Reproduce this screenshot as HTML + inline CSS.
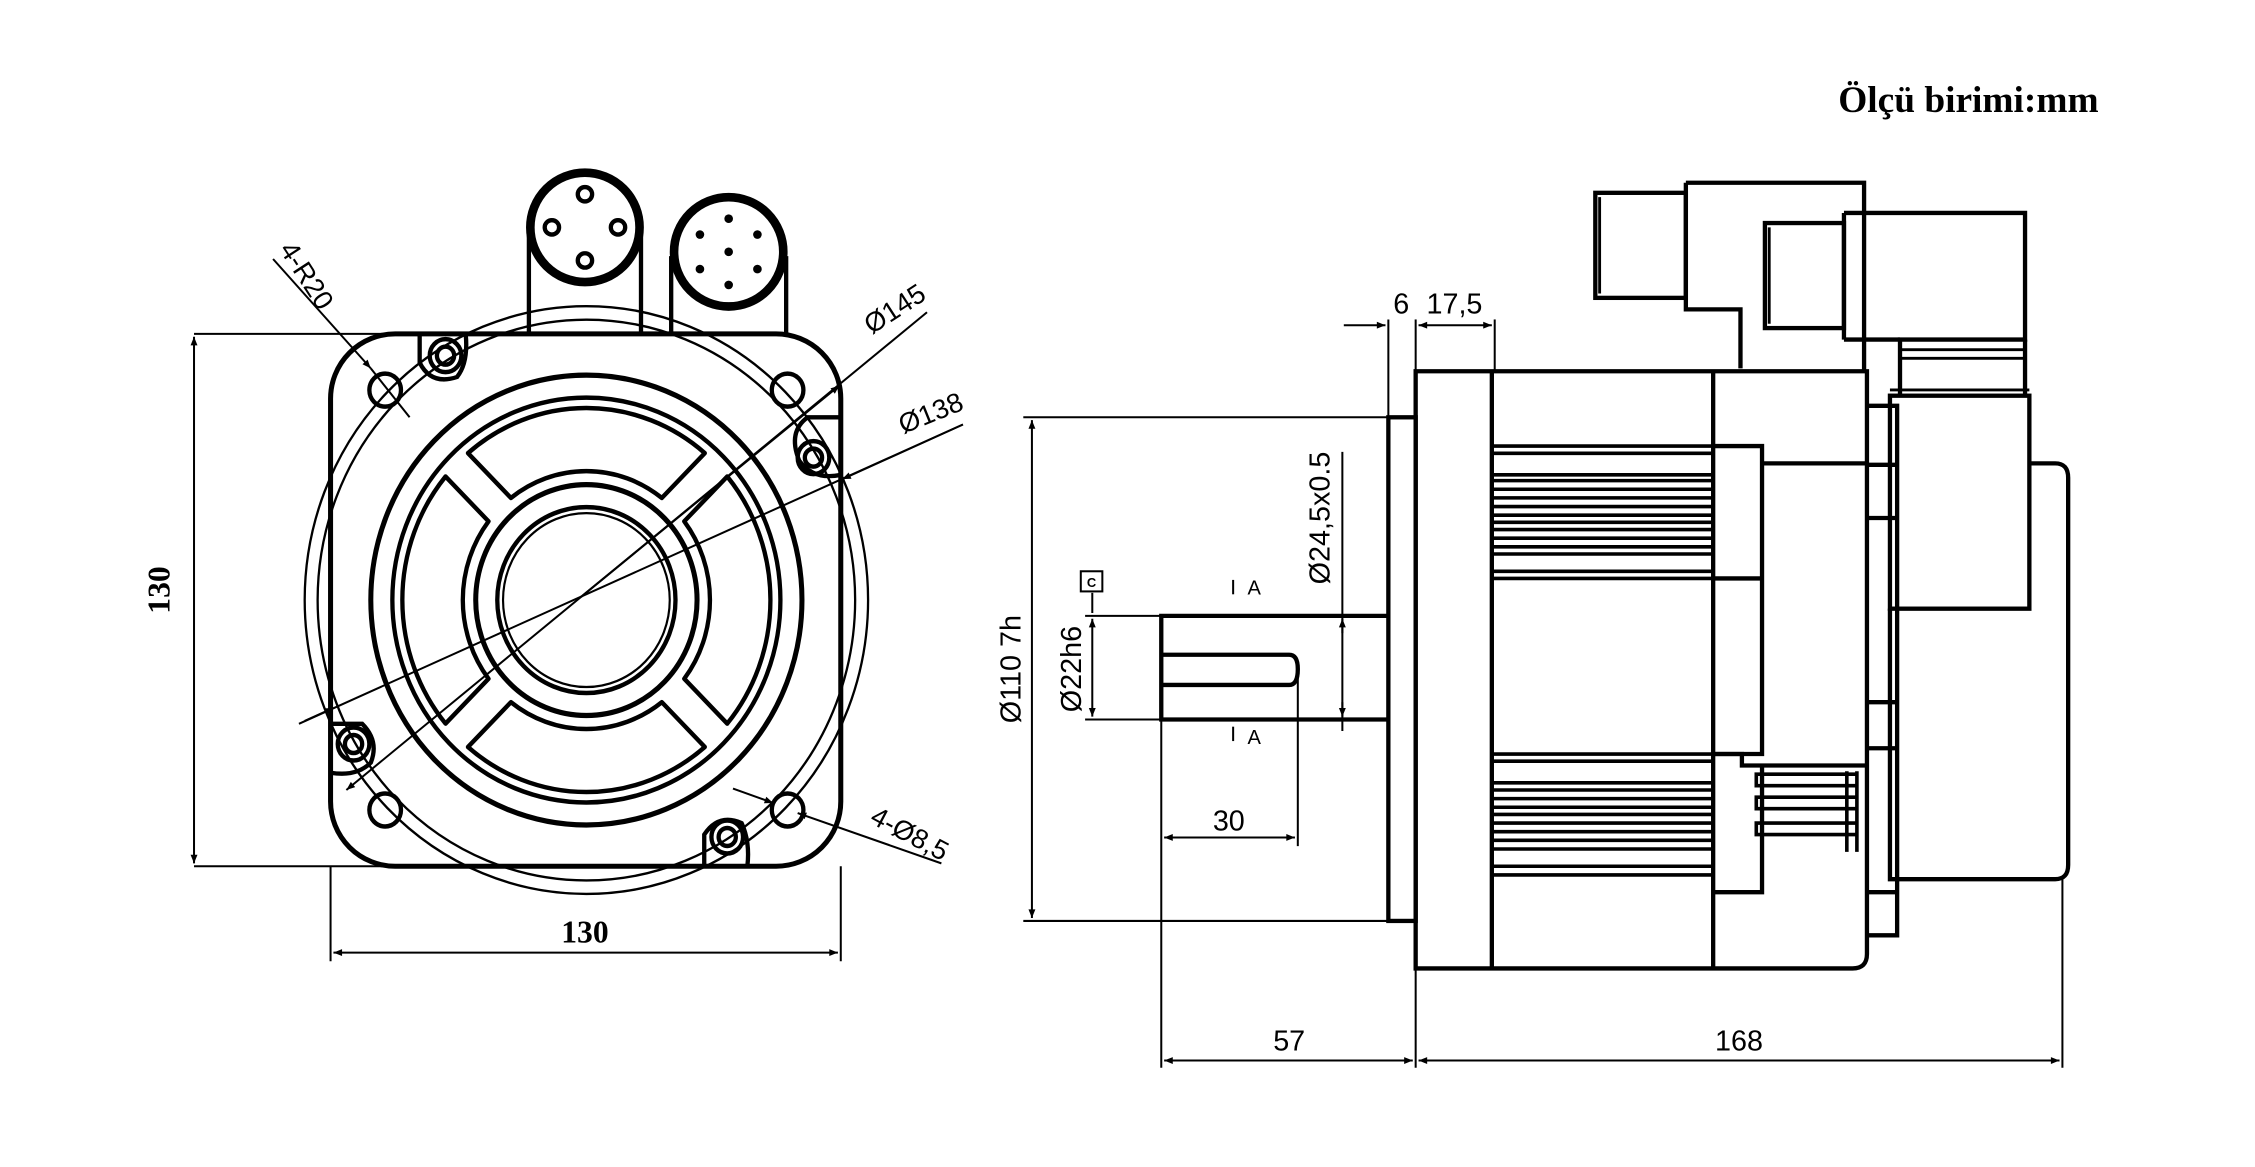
<!DOCTYPE html>
<html><head><meta charset="utf-8"><style>
html,body{margin:0;padding:0;background:#fff;}
svg{display:block;}
text{font-family:"Liberation Sans",sans-serif;fill:#000;}
</style></head><body>
<svg width="2255" height="1167" viewBox="0 0 1569 811" preserveAspectRatio="none" xmlns="http://www.w3.org/2000/svg">
<defs>
<marker id="ar" viewBox="0 0 10 10" refX="10" refY="5" markerWidth="12" markerHeight="6" orient="auto-start-reverse" markerUnits="userSpaceOnUse"><path d="M0,1 L10,5 L0,9 Z" fill="#000"/></marker>
</defs>
<rect width="1580" height="820" fill="#fff"/>
<text x="1279" y="78" font-weight="bold" font-size="26" style="font-family:'Liberation Serif',serif">Ölçü birimi:mm</text>

<!-- FRONT VIEW -->
<g fill="none" stroke="#000">
 <g stroke-width="3">
  <line x1="368" y1="160" x2="368" y2="232"/><line x1="446" y1="160" x2="446" y2="232"/>
  <line x1="467" y1="178" x2="467" y2="232"/><line x1="547" y1="178" x2="547" y2="232"/>
 </g>
 <ellipse cx="407" cy="158" rx="38" ry="38" stroke-width="6"/>
 <ellipse cx="507" cy="175" rx="38" ry="38" stroke-width="6"/>
 <g stroke-width="3">
  <circle cx="407" cy="135" r="5"/><circle cx="384" cy="158" r="5"/><circle cx="430" cy="158" r="5"/><circle cx="407" cy="181" r="5"/>
 </g>
 <g fill="#000" stroke="none">
  <circle cx="507" cy="152" r="3"/><circle cx="487" cy="163" r="3"/><circle cx="527" cy="163" r="3"/><circle cx="507" cy="175" r="3"/><circle cx="487" cy="187" r="3"/><circle cx="527" cy="187" r="3"/><circle cx="507" cy="198" r="3"/>
 </g>
 <rect x="230" y="232" width="355" height="370" rx="45" ry="45" stroke-width="3.5"/>
 <g transform="translate(408,417) scale(1,1.042)">
  <circle r="196" stroke-width="1.6"/>
  <circle r="187" stroke-width="1.6"/>
  <circle r="150" stroke-width="3.5"/>
  <circle r="135" stroke-width="3"/>
  <circle r="77" stroke-width="3.5"/>
  <circle r="62" stroke-width="3"/>
  <circle r="58" stroke-width="1.5"/>
  <g stroke-width="3" stroke-linejoin="round">
   <path id="w" d="M52.5,-68.1 L82.4,-98 A128 128 0 0 0 -82.4,-98 L-52.5,-68.1 A86 86 0 0 1 52.5,-68.1 Z"/>
   <use href="#w" transform="rotate(90)"/><use href="#w" transform="rotate(180)"/><use href="#w" transform="rotate(270)"/>
  </g>
  <g stroke-width="3">
   <circle cx="-98" cy="-163" r="11"/><circle cx="-98" cy="-163" r="6"/>
   <circle cx="158" cy="-95" r="11"/><circle cx="158" cy="-95" r="6"/>
   <circle cx="-162" cy="96" r="11"/><circle cx="-162" cy="96" r="6"/>
   <circle cx="98" cy="158" r="11"/><circle cx="98" cy="158" r="6"/>
   <circle cx="-140" cy="-140" r="11"/><circle cx="140" cy="-140" r="11"/>
   <circle cx="-140" cy="140" r="11"/><circle cx="140" cy="140" r="11"/>
  </g>
 </g>
 <g stroke-width="3">
  <path d="M292,232 V252 Q300,268 318,262 Q326,252 324,232"/>
  <path d="M585,290 H562 Q548,300 556,320 Q566,334 585,330"/>
  <path d="M230,503 H252 Q264,515 258,530 Q248,540 230,537"/>
  <path d="M490,602 V580 Q500,565 516,572 Q522,585 520,602"/>
 </g>
 <g stroke-width="1.4">
  <line x1="135" y1="232" x2="300" y2="232"/><line x1="135" y1="602" x2="300" y2="602"/>
  <line x1="135" y1="234" x2="135" y2="600" marker-start="url(#ar)" marker-end="url(#ar)"/>
  <line x1="230" y1="602" x2="230" y2="668"/><line x1="585" y1="602" x2="585" y2="668"/>
  <line x1="232" y1="662" x2="583" y2="662" marker-start="url(#ar)" marker-end="url(#ar)"/>
  <line x1="645" y1="217" x2="241" y2="549" marker-end="url(#ar)"/>
  <line x1="404" y1="415" x2="584" y2="268" marker-end="url(#ar)"/>
  <line x1="208" y1="503" x2="670" y2="295"/>
  <line x1="212" y1="501" x2="232" y2="492" marker-end="url(#ar)"/>
  <line x1="670" y1="295" x2="586" y2="333" marker-end="url(#ar)"/>
  <line x1="190" y1="180" x2="258" y2="256" marker-end="url(#ar)"/>
  <line x1="258" y1="256" x2="285" y2="290"/>
  <line x1="510" y1="548" x2="538" y2="558" marker-end="url(#ar)"/>
  <line x1="655" y1="600" x2="555" y2="565" marker-end="url(#ar)"/>
 </g>
</g>
<text x="118" y="410" font-weight="bold" font-size="22" text-anchor="middle" transform="rotate(-90 118 410)" style="font-family:'Liberation Serif',serif">130</text>
<text x="407" y="655" font-weight="bold" font-size="22" text-anchor="middle" style="font-family:'Liberation Serif',serif">130</text>
<text x="208" y="195" font-size="19" transform="rotate(57 208 195)" text-anchor="middle">4-R20</text>
<text x="626" y="220" font-size="19" transform="rotate(-33 626 220)" text-anchor="middle">Ø145</text>
<text x="650" y="293" font-size="19" transform="rotate(-22 650 293)" text-anchor="middle">Ø138</text>
<text x="630" y="585" font-size="19" transform="rotate(28 630 585)" text-anchor="middle">4-Ø8,5</text>

<!-- SIDE VIEW -->
<g fill="none" stroke="#000" stroke-width="3">
 <path d="M1173,127 H1297 V258"/>
 <path d="M1173,127 V215 H1211 V256"/>
 <rect x="1110" y="134" width="63" height="73" stroke-width="3"/>
 <line x1="1113" y1="137" x2="1113" y2="204" stroke-width="2"/>
 <path d="M1283,148 H1409 V236 H1322 V275"/>
 <line x1="1283" y1="148" x2="1283" y2="236"/><line x1="1283" y1="236" x2="1322" y2="236"/>
 <line x1="1322" y1="243" x2="1409" y2="243" stroke-width="2"/><line x1="1322" y1="249" x2="1409" y2="249" stroke-width="2"/>
 <line x1="1409" y1="236" x2="1409" y2="275"/>
 <rect x="1228" y="155" width="55" height="73"/>
 <line x1="1231" y1="158" x2="1231" y2="225" stroke-width="2"/>
 <rect x="966" y="290" width="19" height="350"/>
 <path d="M985,258 H1299 V663 Q1299,673 1289,673 H985 Z"/>
 <line x1="1038" y1="258" x2="1038" y2="673"/>
 <line x1="1192" y1="258" x2="1192" y2="673"/>
 <path d="M1192,310 H1226 V524 H1192"/>
 <line x1="1226" y1="322" x2="1299" y2="322"/>
 <line x1="1192" y1="402" x2="1226" y2="402"/>
 <path d="M1192,524 H1212 V532 H1299"/>
 <path d="M1226,532 V620 H1192"/>
 <g stroke-width="2.5">
  <line x1="1038" y1="310" x2="1192" y2="310"/><line x1="1038" y1="315" x2="1192" y2="315"/>
  <line x1="1038" y1="330" x2="1192" y2="330"/><line x1="1038" y1="334" x2="1192" y2="334"/>
  <line x1="1038" y1="340" x2="1192" y2="340"/><line x1="1038" y1="346" x2="1192" y2="346"/>
  <line x1="1038" y1="352" x2="1192" y2="352"/><line x1="1038" y1="358" x2="1192" y2="358"/>
  <line x1="1038" y1="363" x2="1192" y2="363"/><line x1="1038" y1="368" x2="1192" y2="368"/>
  <line x1="1038" y1="374" x2="1192" y2="374"/><line x1="1038" y1="380" x2="1192" y2="380"/>
  <line x1="1038" y1="385" x2="1192" y2="385"/><line x1="1038" y1="397" x2="1192" y2="397"/>
  <line x1="1038" y1="402" x2="1192" y2="402"/>
  <line x1="1038" y1="524" x2="1192" y2="524"/><line x1="1038" y1="529" x2="1192" y2="529"/>
  <line x1="1038" y1="544" x2="1192" y2="544"/><line x1="1038" y1="549" x2="1192" y2="549"/>
  <line x1="1038" y1="555" x2="1192" y2="555"/><line x1="1038" y1="561" x2="1192" y2="561"/>
  <line x1="1038" y1="566" x2="1192" y2="566"/><line x1="1038" y1="572" x2="1192" y2="572"/>
  <line x1="1038" y1="578" x2="1192" y2="578"/><line x1="1038" y1="584" x2="1192" y2="584"/>
  <line x1="1038" y1="590" x2="1192" y2="590"/><line x1="1038" y1="602" x2="1192" y2="602"/>
  <line x1="1038" y1="608" x2="1192" y2="608"/>
  <path d="M1292,538 H1222 V546 H1292 M1292,554 H1222 V562 H1292 M1292,572 H1222 V580 H1292"/>
  <line x1="1285" y1="536" x2="1285" y2="592"/><line x1="1292" y1="536" x2="1292" y2="592"/>
 </g>
 <path d="M1299,282 H1320 V650 H1299"/>
 <line x1="1299" y1="323" x2="1320" y2="323"/><line x1="1299" y1="360" x2="1320" y2="360"/>
 <line x1="1299" y1="488" x2="1320" y2="488"/><line x1="1299" y1="520" x2="1320" y2="520"/>
 <line x1="1299" y1="620" x2="1320" y2="620"/>
 <rect x="1315" y="275" width="97" height="148"/>
 <line x1="1315" y1="271" x2="1412" y2="271" stroke-width="2"/>
 <path d="M1412,322 H1430 Q1439,322 1439,332 V601 Q1439,611 1430,611 H1315 V423"/>
 <path d="M966,428 H808 V500 H966"/>
 <path d="M809,455 H897 Q903,455 903,465 Q903,476 897,476 H809"/>
</g>
<g fill="none" stroke="#000" stroke-width="1.4">
 <line x1="966" y1="222" x2="966" y2="290"/><line x1="985" y1="222" x2="985" y2="258"/><line x1="1040" y1="222" x2="1040" y2="258"/>
 <line x1="935" y1="226" x2="964" y2="226" marker-end="url(#ar)"/>
 <line x1="987" y1="226" x2="1038" y2="226" marker-start="url(#ar)" marker-end="url(#ar)"/>
 <line x1="712" y1="290" x2="966" y2="290"/><line x1="712" y1="640" x2="966" y2="640"/>
 <line x1="718" y1="292" x2="718" y2="638" marker-start="url(#ar)" marker-end="url(#ar)"/>
 <line x1="755" y1="428" x2="808" y2="428"/><line x1="755" y1="500" x2="808" y2="500"/>
 <line x1="760" y1="430" x2="760" y2="498" marker-start="url(#ar)" marker-end="url(#ar)"/>
 <line x1="760" y1="412" x2="760" y2="426"/>
 <rect x="752" y="397" width="15" height="14"/>
 <line x1="934" y1="314" x2="934" y2="508"/>
 <line x1="934" y1="440" x2="934" y2="430" marker-end="url(#ar)"/>
 <line x1="934" y1="488" x2="934" y2="498" marker-end="url(#ar)"/>
 <line x1="926" y1="428" x2="966" y2="428"/><line x1="926" y1="500" x2="966" y2="500"/>
 <line x1="808" y1="500" x2="808" y2="742"/><line x1="903" y1="465" x2="903" y2="588"/>
 <line x1="810" y1="582" x2="901" y2="582" marker-start="url(#ar)" marker-end="url(#ar)"/>
 <line x1="985" y1="673" x2="985" y2="742"/><line x1="1435" y1="611" x2="1435" y2="742"/>
 <line x1="810" y1="737" x2="983" y2="737" marker-start="url(#ar)" marker-end="url(#ar)"/>
 <line x1="987" y1="737" x2="1433" y2="737" marker-start="url(#ar)" marker-end="url(#ar)"/>
 <line x1="858" y1="403" x2="858" y2="413"/><line x1="858" y1="505" x2="858" y2="515"/>
</g>
<g font-size="20">
 <text x="975" y="218" text-anchor="middle">6</text>
 <text x="1012" y="218" text-anchor="middle">17,5</text>
 <text x="710" y="465" text-anchor="middle" transform="rotate(-90 710 465)">Ø110 7h</text>
 <text x="752" y="465" text-anchor="middle" transform="rotate(-90 752 465)">Ø22h6</text>
 <text x="925" y="360" text-anchor="middle" transform="rotate(-90 925 360)">Ø24,5x0.5</text>
 <text x="855" y="577" text-anchor="middle">30</text>
 <text x="897" y="730" text-anchor="middle">57</text>
 <text x="1210" y="730" text-anchor="middle">168</text>
 <text x="868" y="413" font-size="14">A</text>
 <text x="868" y="517" font-size="14">A</text>
 <text x="759.5" y="408" font-size="9" font-weight="bold" text-anchor="middle">C</text>
</g>
</svg>
</body></html>
